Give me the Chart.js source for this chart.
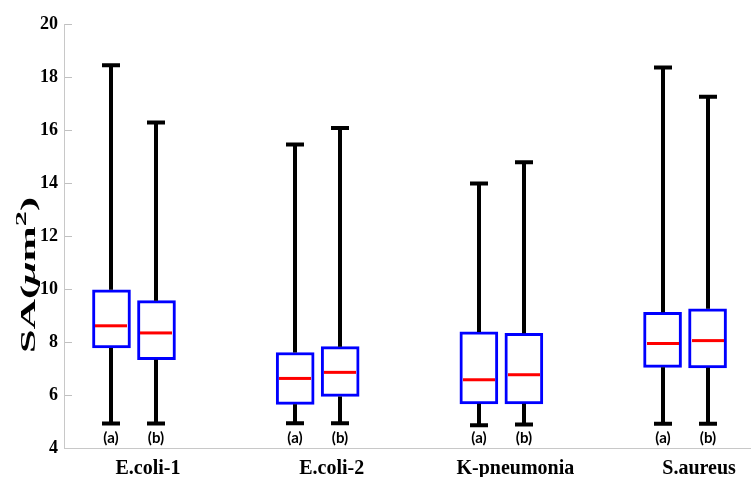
<!DOCTYPE html>
<html>
<head>
<meta charset="utf-8">
<script src="https://cdn.jsdelivr.net/npm/chart.js@4/dist/chart.umd.min.js"></script>
<style>
  html, body { margin: 0; padding: 0; background: #ffffff; }
  canvas { display: block; }
</style>
</head>
<body>
<canvas id="c" width="751" height="477"></canvas>
<script>
// Bacterial strains on the x axis
const groups = ['E.coli-1', 'E.coli-2', 'K-pneumonia', 'S.aureus'];
const yTicks = [4, 6, 8, 10, 12, 14, 16, 18, 20];

// Surface area summary, sample (a)
const minA = [4.93, 4.94, 4.86, 4.92];
const q1A  = [7.78, 5.65, 5.67, 7.05];
const medA = [8.62, 6.63, 6.58, 7.95];
const q3A  = [9.98, 7.61, 8.39, 9.13];
const maxA = [18.47, 15.47, 14.00, 18.39];

// Surface area summary, sample (b)
const minB = [4.93, 4.94, 4.89, 4.92];
const q1B  = [7.34, 5.95, 5.67, 7.03];
const medB = [8.35, 6.86, 6.77, 8.06];
const q3B  = [9.57, 7.83, 8.34, 9.26];
const maxB = [16.31, 16.10, 14.80, 17.28];

function boxSet(label, q1, q3, med, lo, hi) {
  return {
    label: label,
    data: groups.map((g, i) => ({ x: i + 1, y: [q1[i], q3[i]] })),
    stats: { med: med, lo: lo, hi: hi },
    backgroundColor: '#ffffff',
    borderColor: '#0000ff',
    borderWidth: 3,
    borderSkipped: false,
    barThickness: 45,
    maxBarThickness: 38
  };
}

// Whiskers, caps, medians and the (a)/(b) tags under each box
const whiskers = {
  id: 'whiskers',
  afterDatasetsDraw(chart) {
    const ctx = chart.ctx;
    const y = chart.scales.y;
    chart.data.datasets.forEach((ds, di) => {
      const meta = chart.getDatasetMeta(di);
      meta.data.forEach((bar, i) => {
        const p = bar.getProps(['x', 'width'], true);
        const x = Math.round(p.x);
        const w = p.width;
        const pTop = y.getPixelForValue(ds.data[i].y[1]);
        const pBot = y.getPixelForValue(ds.data[i].y[0]);
        const pHi = y.getPixelForValue(ds.stats.hi[i]);
        const pLo = y.getPixelForValue(ds.stats.lo[i]);
        const pMed = y.getPixelForValue(ds.stats.med[i]);
        ctx.save();
        ctx.strokeStyle = '#000000';
        ctx.lineWidth = 4;
        ctx.lineCap = 'butt';
        ctx.beginPath();
        ctx.moveTo(x, pHi); ctx.lineTo(x, pTop);
        ctx.moveTo(x, pBot); ctx.lineTo(x, pLo);
        ctx.moveTo(x - 9, pHi); ctx.lineTo(x + 9, pHi);
        ctx.moveTo(x - 9, pLo); ctx.lineTo(x + 9, pLo);
        ctx.stroke();
        ctx.strokeStyle = '#ff0000';
        ctx.lineWidth = 3;
        ctx.beginPath();
        ctx.moveTo(x - w / 2 + 3, pMed);
        ctx.lineTo(x + w / 2 - 3, pMed);
        ctx.stroke();
        ctx.fillStyle = '#000000';
        ctx.font = 'bold 15px Lato';
        ctx.textAlign = 'center';
        ctx.textBaseline = 'middle';
        ctx.fillText(ds.label, x, y.getPixelForValue(y.min) - 10);
        ctx.restore();
      });
    });
  }
};

// Rotated y-axis title with italic mu and superscript 2
const yTitle = {
  id: 'yTitle',
  afterDraw(chart) {
    const ctx = chart.ctx;
    const parts = [
      { t: 'SA(', f: 'bold 21px "Liberation Serif"', dy: 0 },
      { t: '\u03BC', f: 'italic bold 21px "Liberation Serif"', dy: 0 },
      { t: 'm', f: 'bold 21px "Liberation Serif"', dy: 0 },
      { t: '2', f: 'bold 15px "Liberation Serif"', dy: -9 },
      { t: ')', f: 'bold 21px "Liberation Serif"', dy: 0 }
    ];
    ctx.save();
    let total = 0;
    parts.forEach(pt => { ctx.font = pt.f; pt.w = ctx.measureText(pt.t).width; total += pt.w; });
    const span = 156;
    ctx.translate(35, 275);
    ctx.rotate(-Math.PI / 2);
    ctx.scale(span / total, 1);
    ctx.fillStyle = '#000000';
    ctx.textBaseline = 'alphabetic';
    ctx.textAlign = 'left';
    let cx = -total / 2;
    parts.forEach(pt => {
      ctx.font = pt.f;
      ctx.fillText(pt.t, cx, pt.dy);
      cx += pt.w;
    });
    ctx.restore();
  }
};

new Chart(document.getElementById('c'), {
  type: 'bar',
  data: {
    datasets: [
      boxSet('(a)', q1A, q3A, medA, minA, maxA),
      boxSet('(b)', q1B, q3B, medB, minB, maxB)
    ]
  },
  options: {
    responsive: false,
    devicePixelRatio: 1,
    animation: false,
    events: [],
    layout: { padding: { top: 21, right: 0, bottom: 0, left: 0 } },
    plugins: {
      legend: { display: false },
      tooltip: { enabled: false },
      title: { display: false }
    },
    scales: {
      x: {
        type: 'linear',
        min: 0.619,
        max: 4.359,
        offset: false,
        grid: { display: false },
        border: { display: true, color: '#c8c8c8', width: 1 },
        afterBuildTicks(scale) {
          scale.ticks = groups.map((g, i) => ({ value: i + 1 }));
        },
        afterFit(scale) {
          scale.height = 29;
          scale.paddingLeft = 0;
          scale.paddingRight = 0;
        },
        ticks: {
          autoSkip: false,
          maxRotation: 0,
          padding: 1,
          labelOffset: 14,
          color: '#000000',
          font: { family: '"Liberation Serif"', weight: 'bold', size: 20 },
          callback: (v) => groups[Math.round(v) - 1]
        }
      },
      y: {
        min: 4,
        max: 20,
        grid: {
          drawOnChartArea: false,
          drawTicks: true,
          tickLength: -8,
          color: '#c0c0c0'
        },
        border: { display: true, color: '#c8c8c8', width: 1 },
        afterBuildTicks(scale) {
          scale.ticks = yTicks.map(v => ({ value: v }));
        },
        afterFit(scale) {
          scale.width = 64;
        },
        ticks: {
          padding: 14,
          color: '#000000',
          font: { family: '"Liberation Serif"', weight: 'bold', size: 18 }
        }
      }
    }
  },
  plugins: [whiskers, yTitle]
});
</script>
</body>
</html>
